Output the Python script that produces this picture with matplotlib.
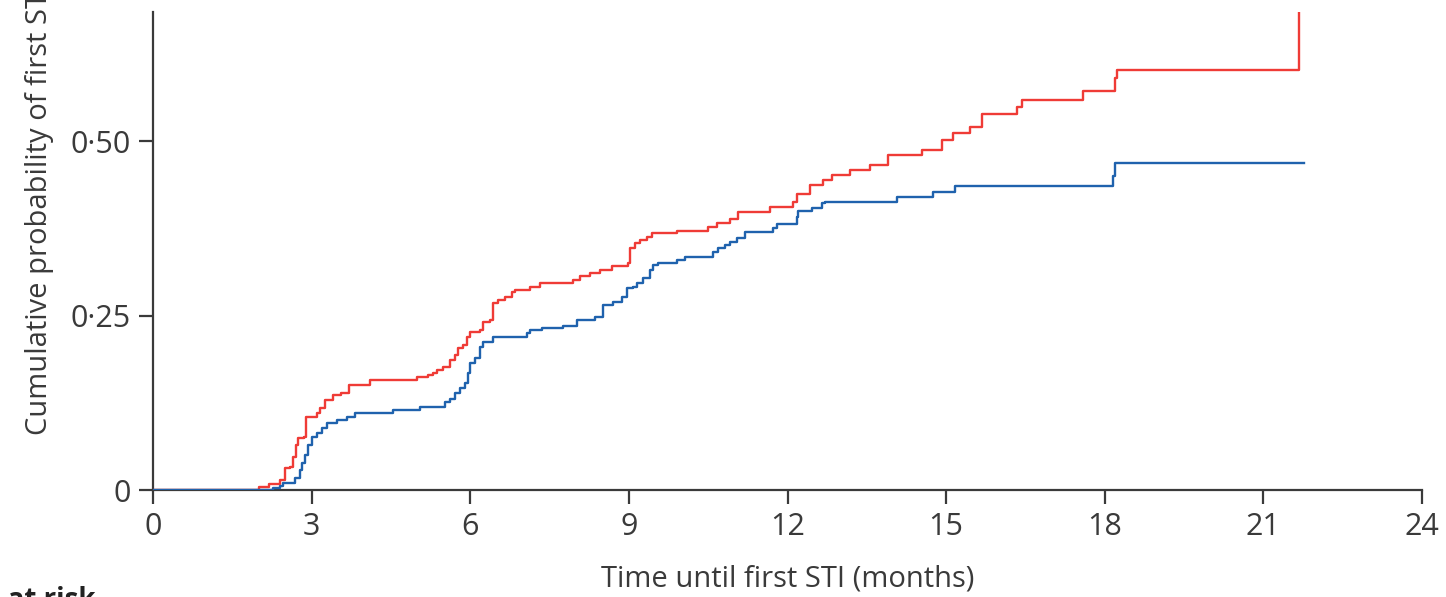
import numpy as np
import matplotlib; matplotlib.use("Agg")
import matplotlib.pyplot as plt

plt.rcParams['font.family'] = ['Open Sans', 'DejaVu Sans']

# cumulative probability of first STI, step points (months, probability)
red_t = [0, 2.0, 2.2, 2.4, 2.5, 2.6, 2.65, 2.7, 2.75, 2.85, 2.9, 3.1, 3.15, 3.25, 3.4,
         3.55, 3.7, 4.1, 5.0, 5.2, 5.3, 5.37, 5.49, 5.62, 5.71, 5.77, 5.86, 5.94, 6.0,
         6.18, 6.24, 6.37, 6.43, 6.52, 6.66, 6.79, 6.85, 7.13, 7.32, 7.94, 8.08, 8.26,
         8.45, 8.68, 8.98, 9.02, 9.12, 9.21, 9.34, 9.44, 9.91, 10.5, 10.67, 10.91, 11.06,
         11.67, 12.1, 12.18, 12.43, 12.67, 12.84, 13.18, 13.56, 13.9, 14.54, 14.92,
         15.13, 15.45, 15.68, 16.34, 16.43, 17.59, 18.2, 18.23, 21.67]
red_p = [0, 0.004, 0.008, 0.014, 0.031, 0.033, 0.047, 0.064, 0.074, 0.076, 0.105, 0.110,
         0.117, 0.129, 0.136, 0.139, 0.150, 0.158, 0.162, 0.165, 0.168, 0.172, 0.176,
         0.186, 0.193, 0.203, 0.208, 0.219, 0.226, 0.229, 0.241, 0.244, 0.268, 0.272,
         0.277, 0.284, 0.287, 0.291, 0.297, 0.301, 0.307, 0.311, 0.315, 0.321, 0.325,
         0.347, 0.354, 0.358, 0.363, 0.368, 0.371, 0.377, 0.383, 0.388, 0.398, 0.405,
         0.413, 0.424, 0.437, 0.444, 0.451, 0.458, 0.466, 0.480, 0.487, 0.501, 0.511,
         0.520, 0.539, 0.549, 0.559, 0.572, 0.590, 0.602, 0.75]

blue_t = [0, 2.27, 2.4, 2.45, 2.68, 2.78, 2.82, 2.87, 2.93, 3.0, 3.1, 3.2, 3.29, 3.48,
          3.67, 3.82, 4.54, 5.05, 5.52, 5.62, 5.71, 5.81, 5.9, 5.96, 6.0, 6.09, 6.18,
          6.24, 6.43, 7.07, 7.13, 7.36, 7.75, 8.02, 8.36, 8.51, 8.7, 8.87, 8.96, 9.08,
          9.15, 9.27, 9.4, 9.46, 9.55, 9.91, 10.06, 10.6, 10.69, 10.82, 10.91, 11.04,
          11.2, 11.73, 11.8, 12.18, 12.2, 12.46, 12.65, 12.71, 14.07, 14.75, 15.17,
          18.16, 18.2, 21.77]
blue_p = [0, 0.003, 0.006, 0.010, 0.017, 0.029, 0.038, 0.050, 0.064, 0.076, 0.082,
          0.089, 0.096, 0.100, 0.105, 0.110, 0.115, 0.119, 0.126, 0.131, 0.139, 0.146,
          0.153, 0.167, 0.182, 0.189, 0.205, 0.212, 0.219, 0.225, 0.229, 0.232, 0.235,
          0.244, 0.248, 0.265, 0.269, 0.277, 0.289, 0.291, 0.297, 0.304, 0.315, 0.322,
          0.325, 0.330, 0.334, 0.341, 0.347, 0.351, 0.355, 0.361, 0.370, 0.375, 0.381,
          0.391, 0.400, 0.404, 0.411, 0.413, 0.420, 0.427, 0.436, 0.450, 0.468, 0.468]

xticks = [0, 3, 6, 9, 12, 15, 18, 21, 24]
yticks = [0, 0.25, 0.50]
ytick_labels = ["0", "0·25", "0·50"]

RED = "#ef3b36"
BLUE = "#1f62ad"
INK = "#3a3a3a"

fig = plt.figure(figsize=(14.46, 5.97), dpi=100)
ax = fig.add_axes([153/1446, 1 - 490/597, (1422-153)/1446, (490-12)/597])

ax.step(red_t, red_p, where="post", color=RED, lw=1.7, zorder=3)
ax.step(blue_t, blue_p, where="post", color=BLUE, lw=1.7, zorder=4)

ax.set_xlim(0, 24)
ax.set_ylim(0, 0.685)
ax.set_xticks(xticks)
ax.set_yticks(yticks)
ax.set_yticklabels(ytick_labels)
for s in ["top", "right"]:
    ax.spines[s].set_visible(False)
for s in ["left", "bottom"]:
    ax.spines[s].set_linewidth(1.6)
    ax.spines[s].set_color(INK)
ax.tick_params(direction="out", length=10, width=1.6, color=INK,
               labelsize=22, labelcolor=INK, pad=6)

ax.set_xlabel("Time until first STI (months)", fontsize=21, color=INK, labelpad=16)
fig.text(40/1446, 1 - 435/597, "Cumulative probability of first STI", rotation=90,
         ha="center", va="bottom", fontsize=21, color=INK)
fig.text(95/1446, 1 - 586/597, "Number at risk", ha="right", va="top",
         fontsize=20, fontweight="bold", color="#222222")

plt.savefig("out.png", dpi=100)
